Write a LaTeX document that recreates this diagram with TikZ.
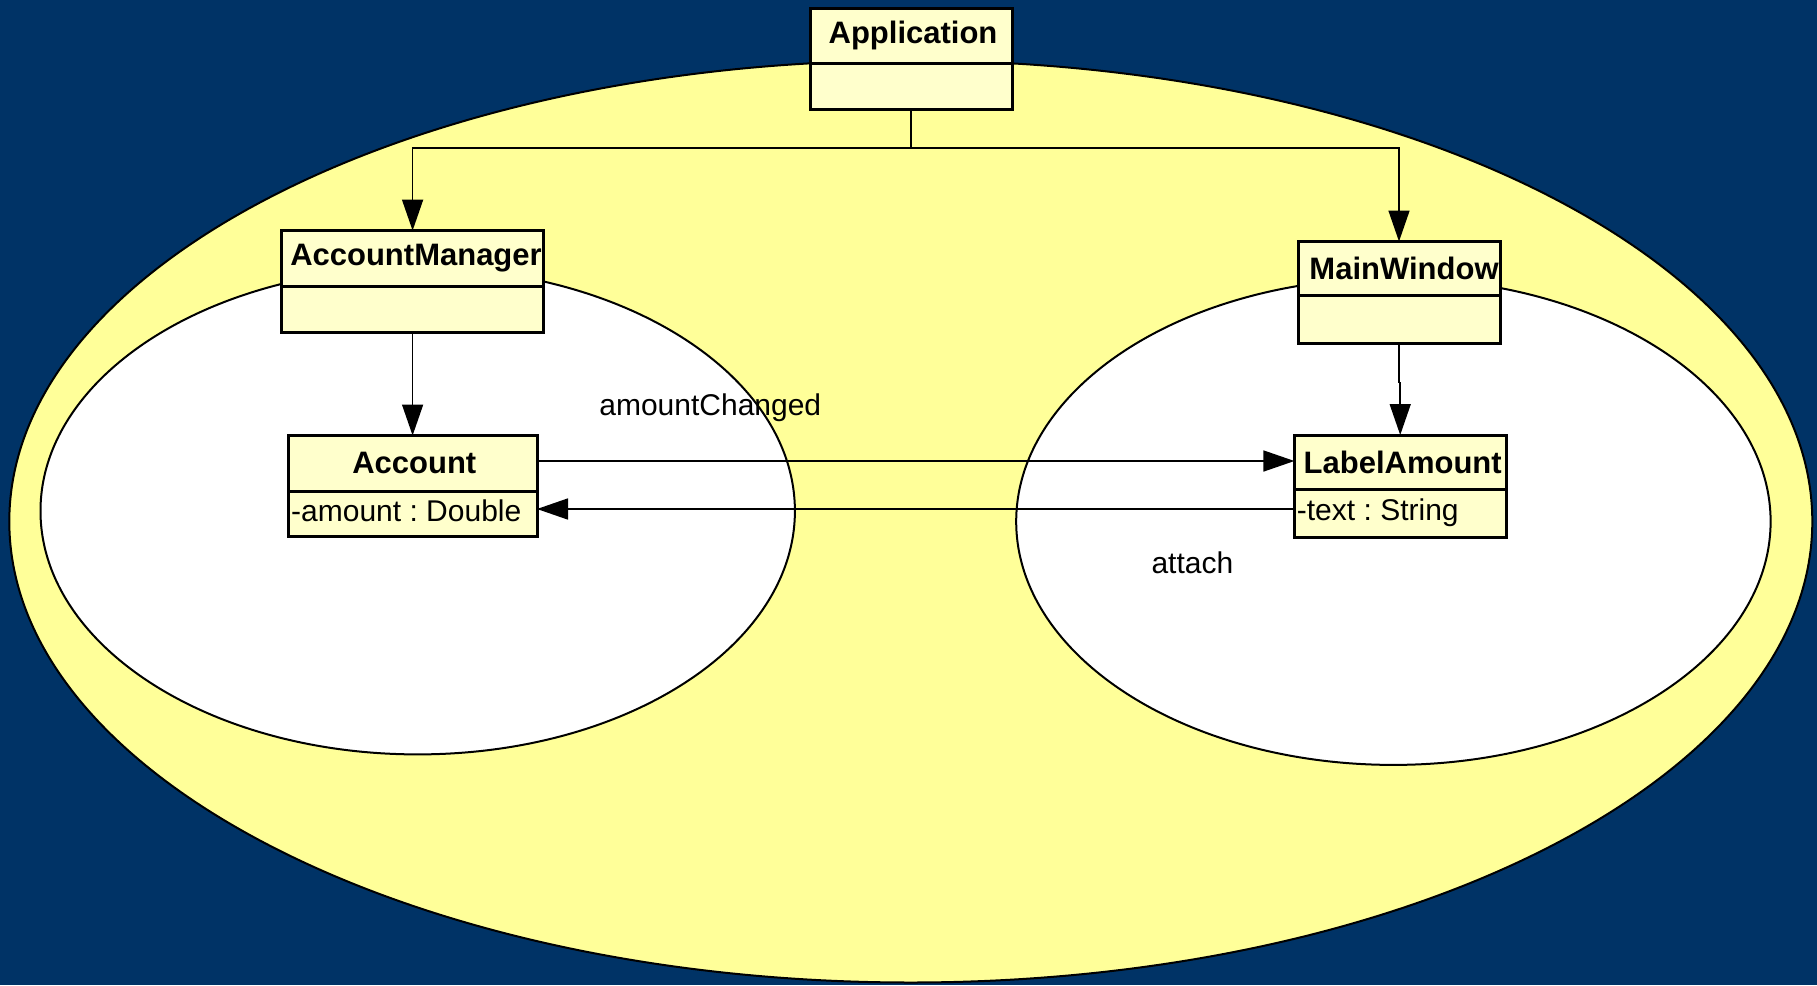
\documentclass[tikz,border=0pt]{standalone}
\usepackage{fontspec}
\setmainfont{Liberation Sans}
\usetikzlibrary{arrows.meta}
\definecolor{bgblue}{RGB}{0,51,102}
\definecolor{outeryellow}{RGB}{255,255,153}
\definecolor{boxyellow}{RGB}{255,255,204}
\frenchspacing
\tikzset{
  umlbox/.style={draw=black, line width=3pt, fill=boxyellow, inner sep=0pt, outer sep=0pt, anchor=north west},
  divider/.style={draw=black, line width=3pt},
  cluster/.style={draw=black, line width=2pt},
  conn/.style={draw=black, line width=1.6pt},
  arr/.style={conn, -{Triangle[length=31pt,width=21pt]}},
  title/.style={font=\fontsize{31}{36}\selectfont\bfseries, inner sep=0pt},
  attr/.style={font=\fontsize{30}{35}\selectfont\frenchspacing, inner sep=0pt, anchor=base west},
  lbl/.style={font=\fontsize{30}{35}\selectfont, inner sep=0pt}
}
\begin{document}
\begin{tikzpicture}[x=1pt,y=-1pt]
\useasboundingbox (0,0) rectangle (1817,985);
\fill[bgblue] (0,0) rectangle (1817,985);
% clusters
\filldraw[cluster, fill=outeryellow] (910.8,521.5) ellipse [x radius=901.5pt, y radius=461pt];
\filldraw[cluster, fill=white] (417.7,511) ellipse [x radius=377.2pt, y radius=243.4pt];
\filldraw[cluster, fill=white] (1393.4,521.5) ellipse [x radius=377.2pt, y radius=243.4pt];
% boxes
\node[umlbox, minimum width=202pt, minimum height=101pt] (app) at (810,8) {};
\draw[divider] (app.west |- 0,63) -- (app.east |- 0,63);
\node[title] (apptitle) at (913,35.5) {Application};
\node[umlbox, minimum width=262pt, minimum height=102pt] (am) at (281.6,230.6) {};
\draw[divider] (am.west |- 0,286) -- (am.east |- 0,286);
\node[title] (amtitle) at (416,258) {AccountManager};
\node[umlbox, minimum width=202pt, minimum height=102pt] (mw) at (1298,241.5) {};
\draw[divider] (mw.west |- 0,295.6) -- (mw.east |- 0,295.6);
\node[title] (mwtitle) at (1404,268) {MainWindow};
\node[umlbox, minimum width=249pt, minimum height=101pt] (acc) at (288,435.5) {};
\draw[divider] (acc.west |- 0,491) -- (acc.east |- 0,491);
\node[title] (acctitle) at (414.3,463) {Account};
\node[attr] (accattr) at (291,521) {-amount : Double};
\node[umlbox, minimum width=211.6pt, minimum height=102pt] (la) at (1294.4,435) {};
\draw[divider] (la.west |- 0,489) -- (la.east |- 0,489);
\node[title] (latitle) at (1402.7,462) {LabelAmount};
\node[attr] (laattr) at (1296.7,520.5) {-text : String};
% connectors
\coordinate (j) at (911,148);
\draw[conn] (app.south) -- (j);
\draw[arr] (j) -| (am.north);
\draw[arr] (j) -| (mw.north);
\draw[arr] (am.south) -- (acc.north -| am.south);
\draw[arr] (mw.south) -- ++(0,39) -| (la.north);
\draw[arr] (acc.east |- 0,461) -- (la.west |- 0,461);
\draw[arr] (la.west |- 0,509) -- (acc.east |- 0,509);
% labels
\node[lbl] (lblchanged) at (710.3,407.9) {amountChanged};
\node[lbl] (lblattach) at (1192.4,563.2) {attach};
\end{tikzpicture}
\end{document}
